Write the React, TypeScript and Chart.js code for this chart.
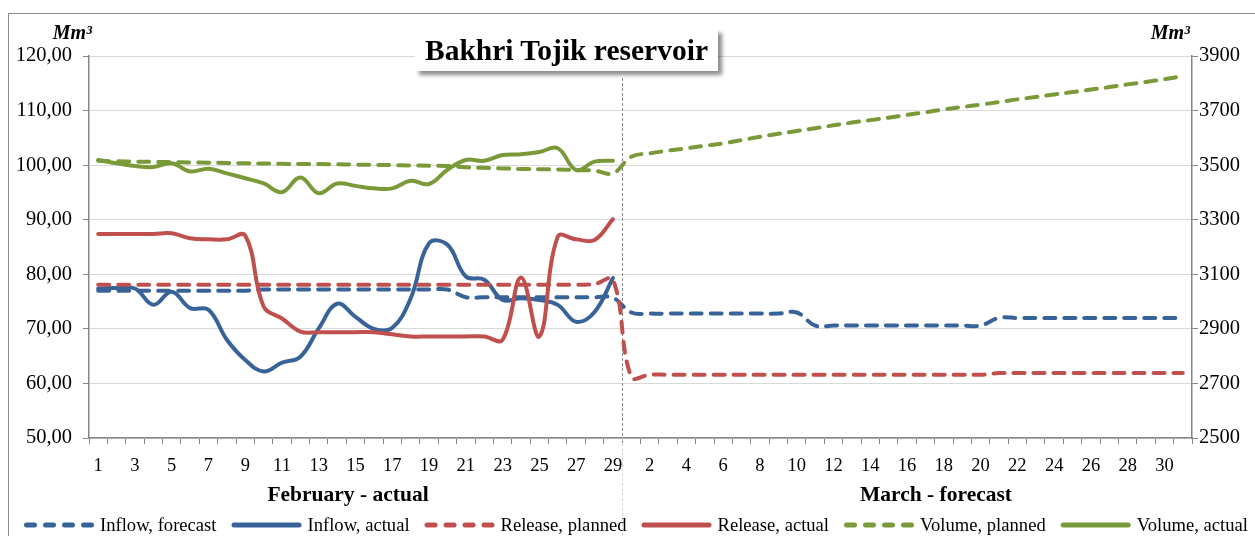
import React, { useEffect, useRef } from 'react';
import { Chart, registerables } from 'chart.js';

Chart.register(...registerables);

// ---- categories ----
const FEB_DAYS = ['1','2','3','4','5','6','7','8','9','10','11','12','13','14','15','16','17','18','19','20','21','22','23','24','25','26','27','28','29'];
const MAR_DAYS = ['1','2','3','4','5','6','7','8','9','10','11','12','13','14','15','16','17','18','19','20','21','22','23','24','25','26','27','28','29','30','31'];
const CATEGORIES = [...FEB_DAYS, ...MAR_DAYS];

// ---- series (left axis, Mm3) ----
const INFLOW_FORECAST_FEB = [77.0,77.0,77.0,77.0,77.0,77.0,77.0,77.0,77.0,77.2,77.2,77.2,77.2,77.2,77.2,77.2,77.2,77.2,77.2,77.2,75.8,75.8,75.8,75.8,75.8,75.8,75.8,75.8,75.7];
const INFLOW_FORECAST_MAR = [73.0,72.8,72.8,72.8,72.8,72.8,72.8,72.8,72.8,73.0,70.6,70.6,70.6,70.6,70.6,70.6,70.6,70.6,70.6,70.6,72.0,72.0,72.0,72.0,72.0,72.0,72.0,72.0,72.0,72.0,72.0];
const INFLOW_ACTUAL_FEB = [77.4,77.5,77.4,74.4,76.8,73.8,73.5,68.0,64.3,62.2,63.8,64.9,70.1,74.6,72.2,70.0,70.2,75.6,85.7,85.4,79.6,79.0,75.3,75.6,75.3,74.4,71.3,73.1,79.3];
const RELEASE_PLANNED_FEB = [78.1,78.1,78.1,78.1,78.1,78.1,78.1,78.1,78.1,78.1,78.1,78.1,78.1,78.1,78.1,78.1,78.1,78.1,78.1,78.1,78.1,78.1,78.1,78.1,78.1,78.1,78.1,78.2,79.0];
const RELEASE_PLANNED_MAR = [61.2,61.6,61.6,61.6,61.6,61.6,61.6,61.6,61.6,61.6,61.6,61.6,61.6,61.6,61.6,61.6,61.6,61.6,61.6,61.6,61.9,61.9,61.9,61.9,61.9,61.9,61.9,61.9,61.9,61.9,61.9];
const RELEASE_ACTUAL_FEB = [87.4,87.4,87.4,87.4,87.5,86.6,86.4,86.4,87.1,74.1,71.9,69.5,69.4,69.4,69.4,69.4,69.0,68.6,68.6,68.6,68.6,68.6,68.0,79.4,68.6,86.9,86.4,86.3,90.1];

// ---- series (right axis, Mm3) ----
const VOLUME_PLANNED_FEB = [3516,3514,3513,3512,3511,3510,3509,3508,3507,3506,3505,3504,3504,3503,3502,3501,3500,3499,3498,3497,3492,3490,3488,3486,3485,3484,3482,3480,3470];
const VOLUME_PLANNED_MAR = [3531,3543,3553,3562,3571,3580,3592,3604,3615,3625,3635,3646,3656,3665,3674,3684,3694,3704,3713,3722,3731,3741,3750,3759,3768,3777,3786,3796,3805,3815,3826];
const VOLUME_ACTUAL_FEB = [3519,3507,3497,3493,3507,3477,3487,3470,3452,3433,3401,3455,3397,3433,3424,3415,3415,3443,3431,3483,3519,3516,3537,3540,3548,3562,3482,3513,3516];

const MAR_EMPTY: (number | null)[] = MAR_DAYS.map(() => null);

const LEFT_MIN = 50, LEFT_MAX = 120, LEFT_STEP = 10;
const RIGHT_MIN = 2500, RIGHT_MAX = 3900, RIGHT_STEP = 200;

const BLUE = '#386399';
const RED = '#c0504d';
const GREEN = '#7a9a3a';
const SERIF = '"Liberation Serif", "Times New Roman", serif';

const overlayPlugin = {
  id: 'overlay',
  beforeDatasetsDraw(chart: any) {
    const { ctx, scales, chartArea } = chart;
    const x = scales.x;
    const xs = Math.round((x.getPixelForValue(28) + x.getPixelForValue(29)) / 2) + 0.5;
    ctx.save();
    ctx.lineWidth = 1;
    ctx.setLineDash([3, 2]);
    ctx.strokeStyle = '#8a8a8a';
    ctx.beginPath();
    ctx.moveTo(xs, 64);
    ctx.lineTo(xs, chartArea.bottom);
    ctx.stroke();
    ctx.strokeStyle = '#d6d6d6';
    ctx.beginPath();
    ctx.moveTo(xs, chartArea.bottom);
    ctx.lineTo(xs, chart.height);
    ctx.stroke();
    ctx.restore();
  },
  afterDraw(chart: any) {
    const { ctx, chartArea } = chart;
    ctx.save();
    ctx.fillStyle = '#000';
    // axis units
    ctx.font = `bold italic 20px ${SERIF}`;
    ctx.textBaseline = 'alphabetic';
    ctx.textAlign = 'right';
    ctx.fillText('Mm³', chartArea.left + 3, 25);
    ctx.fillText('Mm³', chartArea.right - 2, 25);
    // month captions
    ctx.font = `bold 21.5px ${SERIF}`;
    ctx.textAlign = 'center';
    ctx.textBaseline = 'middle';
    ctx.fillText('February - actual', 339, 481);
    ctx.fillText('March - forecast', 927, 481);
    // legend
    ctx.font = `18.6px ${SERIF}`;
    ctx.textAlign = 'left';
    let lx = 15;
    const ly = 511;
    chart.data.datasets.forEach((ds: any) => {
      ctx.strokeStyle = ds.borderColor;
      ctx.lineWidth = 5;
      ctx.lineCap = 'round';
      ctx.setLineDash(ds.borderDash && ds.borderDash.length ? [8, 11] : []);
      ctx.beginPath();
      ctx.moveTo(lx + 2.5, ly);
      ctx.lineTo(lx + 67.5, ly);
      ctx.stroke();
      ctx.setLineDash([]);
      ctx.fillStyle = '#000';
      ctx.fillText(ds.label, lx + 76, ly + 1);
      lx += 76 + ctx.measureText(ds.label).width + 15;
    });
    ctx.restore();
  },
};

export default function App() {
  const canvasRef = useRef<HTMLCanvasElement | null>(null);

  useEffect(() => {
    if (!canvasRef.current) return;
    const dashed = [11, 9];
    const common = {
      pointRadius: 0,
      pointHoverRadius: 0,
      borderWidth: 4,
      tension: 0.4,
      borderCapStyle: 'round' as const,
      borderJoinStyle: 'round' as const,
      fill: false,
      spanGaps: false,
    };
    const chart = new Chart(canvasRef.current, {
      type: 'line',
      data: {
        labels: CATEGORIES,
        datasets: [
          { ...common, label: 'Inflow, forecast', data: [...INFLOW_FORECAST_FEB, ...INFLOW_FORECAST_MAR], borderColor: BLUE, backgroundColor: BLUE, borderDash: dashed, yAxisID: 'y', order: 5 },
          { ...common, label: 'Inflow, actual', data: [...INFLOW_ACTUAL_FEB, ...MAR_EMPTY], borderColor: BLUE, backgroundColor: BLUE, yAxisID: 'y', order: 4 },
          { ...common, label: 'Release, planned', data: [...RELEASE_PLANNED_FEB, ...RELEASE_PLANNED_MAR], borderColor: RED, backgroundColor: RED, borderDash: dashed, yAxisID: 'y', order: 3 },
          { ...common, label: 'Release, actual', data: [...RELEASE_ACTUAL_FEB, ...MAR_EMPTY], borderColor: RED, backgroundColor: RED, yAxisID: 'y', order: 2 },
          { ...common, label: 'Volume, planned', data: [...VOLUME_PLANNED_FEB, ...VOLUME_PLANNED_MAR], borderColor: GREEN, backgroundColor: GREEN, borderDash: dashed, yAxisID: 'y2', order: 1 },
          { ...common, label: 'Volume, actual', data: [...VOLUME_ACTUAL_FEB, ...MAR_EMPTY], borderColor: GREEN, backgroundColor: GREEN, yAxisID: 'y2', order: 0 },
        ],
      },
      options: {
        responsive: false,
        animation: false,
        devicePixelRatio: 1,
        layout: { padding: { top: 42, left: 0, right: 0, bottom: 0 } },
        plugins: {
          legend: { display: false },
          title: { display: false },
          tooltip: { enabled: false },
        },
        events: [],
        scales: {
          x: {
            type: 'category',
            offset: true,
            afterFit: (s: any) => { s.height = 98; },
            grid: {
              offset: true,
              drawOnChartArea: false,
              drawTicks: true,
              tickLength: 6,
              tickColor: '#868686',
              tickWidth: 1,
            },
            border: { display: true, color: '#868686', width: 1.5 },
            ticks: {
              autoSkip: false,
              maxRotation: 0,
              minRotation: 0,
              padding: 11,
              color: '#000',
              font: { family: SERIF, size: 18.5 },
              callback: (_v: any, i: number) => (i % 2 === 0 ? CATEGORIES[i] : ''),
            },
          },
          y: {
            type: 'linear',
            position: 'left',
            min: LEFT_MIN,
            max: LEFT_MAX,
            afterFit: (s: any) => { s.width = 80; },
            grid: {
              color: '#d9d9d9',
              lineWidth: 1,
              drawTicks: true,
              tickLength: 6,
              tickColor: '#868686',
            },
            border: { display: true, color: '#868686', width: 1.5 },
            ticks: {
              stepSize: LEFT_STEP,
              padding: 11,
              color: '#000',
              font: { family: SERIF, size: 20.5 },
              callback: (v: any) => Number(v).toFixed(2).replace('.', ','),
            },
          },
          y2: {
            type: 'linear',
            position: 'right',
            min: RIGHT_MIN,
            max: RIGHT_MAX,
            afterFit: (s: any) => { s.width = 63; },
            grid: {
              drawOnChartArea: false,
              drawTicks: true,
              tickLength: 6,
              tickColor: '#868686',
            },
            border: { display: true, color: '#868686', width: 1.5 },
            ticks: {
              stepSize: RIGHT_STEP,
              padding: 1,
              color: '#000',
              font: { family: SERIF, size: 20.5 },
              callback: (v: any) => String(v),
            },
          },
        },
      },
      plugins: [overlayPlugin],
    } as any);
    return () => chart.destroy();
  }, []);

  return (
    <div
      style={{
        position: 'fixed',
        left: 8,
        top: 13,
        width: 1262,
        height: 540,
        border: '1px solid #8c8c8c',
        background: '#fff',
        boxSizing: 'border-box',
      }}
    >
      <canvas
        ref={canvasRef}
        width={1246}
        height={522}
        style={{ position: 'absolute', left: 0, top: 0, width: 1246, height: 522 }}
      />
      <div
        style={{
          position: 'absolute',
          left: 406,
          top: 15,
          width: 303,
          height: 42,
          lineHeight: '42px',
          background: '#fff',
          boxShadow: '4px 4px 4px rgba(0,0,0,0.45)',
          fontFamily: SERIF,
          fontWeight: 'bold',
          fontSize: 29.5,
          textAlign: 'center',
          color: '#000',
          whiteSpace: 'nowrap',
        }}
      >
        Bakhri Tojik reservoir
      </div>
    </div>
  );
}
